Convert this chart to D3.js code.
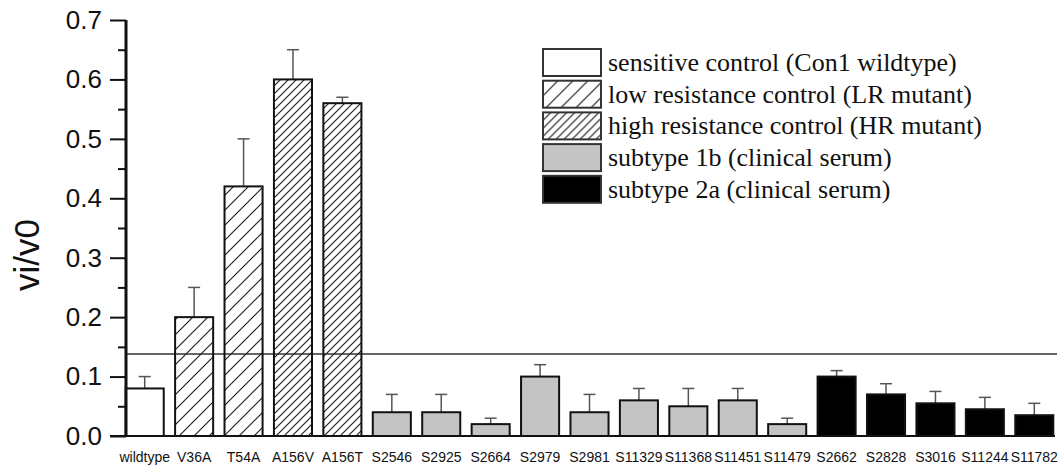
<!DOCTYPE html>
<html>
<head>
<meta charset="utf-8">
<script src="https://cdn.jsdelivr.net/npm/d3@7"></script>
<style>
  body { margin: 0; background: #fff; }
  svg { display: block; }
</style>
</head>
<body>
<div id="chart"></div>
<script>
// data
var categories = ["wildtype", "V36A", "T54A", "A156V", "A156T", "S2546", "S2925", "S2664", "S2979", "S2981",
                  "S11329", "S11368", "S11451", "S11479", "S2662", "S2828", "S3016", "S11244", "S11782"]
var values = [0.08, 0.20, 0.42, 0.60, 0.56, 0.04, 0.04, 0.02, 0.10, 0.04,
              0.06, 0.05, 0.06, 0.02, 0.10, 0.07, 0.055, 0.045, 0.035]
var errors = [0.02, 0.05, 0.08, 0.05, 0.01, 0.03, 0.03, 0.01, 0.02, 0.03,
              0.02, 0.03, 0.02, 0.01, 0.01, 0.018, 0.02, 0.02, 0.02]
var groups = ["sens", "lr", "lr", "hr", "hr", "1b", "1b", "1b", "1b", "1b",
              "1b", "1b", "1b", "1b", "2a", "2a", "2a", "2a", "2a"]
var groupKeys = ["sens", "lr", "hr", "1b", "2a"]
var groupLabels = ["sensitive control (Con1 wildtype)", "low resistance control (LR mutant)",
                   "high resistance control (HR mutant)", "subtype 1b (clinical serum)", "subtype 2a (clinical serum)"]
var yTicks = [0, 0.1, 0.2, 0.3, 0.4, 0.5, 0.6, 0.7]
var yMinorTicks = [0.05, 0.15, 0.25, 0.35, 0.45, 0.55, 0.65]
var threshold = 0.138

var width = 1059, height = 471
var svg = d3.select("#chart").append("svg")
  .attr("width", width)
  .attr("height", height)

// hatch patterns
var defs = svg.append("defs")
function hatch(id, s) {
  defs.append("pattern")
    .attr("id", id)
    .attr("patternUnits", "userSpaceOnUse")
    .attr("width", s).attr("height", s)
    .append("path")
    .attr("d", "M0," + s + " L" + s + ",0 M" + (-s / 4) + "," + (s / 4) + " L" + (s / 4) + "," + (-s / 4) +
               " M" + (s * 3 / 4) + "," + (s * 5 / 4) + " L" + (s * 5 / 4) + "," + (s * 3 / 4))
    .attr("stroke", "#222")
    .attr("stroke-width", 1.2)
}
hatch("lrHatch", 15)
hatch("hrHatch", 8)

var fills = { sens: "#fff", lr: "url(#lrHatch)", hr: "url(#hrHatch)", "1b": "#c4c4c4", "2a": "#000" }

var x = d3.scaleBand()
  .domain(categories)
  .range([120, 1059])
  .paddingInner(0.23)
  .paddingOuter(0.115)

var y = d3.scaleLinear()
  .domain([0, 0.7])
  .range([436, 20])

var axisX = 126

// threshold line
svg.append("line")
  .attr("x1", axisX).attr("x2", 1057)
  .attr("y1", y(threshold)).attr("y2", y(threshold))
  .attr("stroke", "#333").attr("stroke-width", 1.3)

// error bars (upper only)
var err = svg.append("g")
categories.forEach(function(c, i) {
  var cx = x(c) + x.bandwidth() / 2
  err.append("line")
    .attr("x1", cx).attr("x2", cx)
    .attr("y1", y(values[i])).attr("y2", y(values[i] + errors[i]))
    .attr("stroke", "#555").attr("stroke-width", 1.5)
  err.append("line")
    .attr("x1", cx - 6).attr("x2", cx + 6)
    .attr("y1", y(values[i] + errors[i])).attr("y2", y(values[i] + errors[i]))
    .attr("stroke", "#555").attr("stroke-width", 1.5)
})

// bars
svg.selectAll("rect.bar")
  .data(categories)
  .enter()
  .append("rect")
    .attr("class", "bar")
    .attr("x", function(d) { return x(d) })
    .attr("y", function(d, i) { return y(values[i]) })
    .attr("width", x.bandwidth())
    .attr("height", function(d, i) { return y(0) - y(values[i]) })
    .attr("fill", function(d, i) { return fills[groups[i]] })
    .attr("stroke", "#111")
    .attr("stroke-width", 2)

// x axis baseline
svg.append("line")
  .attr("x1", axisX - 16).attr("x2", 1055)
  .attr("y1", y(0)).attr("y2", y(0))
  .attr("stroke", "#111").attr("stroke-width", 2)

// x labels
var xAxis = svg.append("g")
  .attr("transform", "translate(0," + y(0) + ")")
  .call(d3.axisBottom(x).tickSize(0).tickPadding(16))
xAxis.select(".domain").remove()
xAxis.selectAll("text")
  .attr("font-family", "Liberation Sans, Arial, sans-serif")
  .attr("font-size", "14px")
  .attr("fill", "#111")

// y axis
var yAxis = svg.append("g")
  .attr("transform", "translate(" + axisX + ",0)")
  .call(d3.axisLeft(y).tickValues(yTicks).tickSize(16).tickPadding(8).tickFormat(d3.format(".1f")))
yAxis.select(".domain").attr("stroke", "#111").attr("stroke-width", 3).attr("d", "M0," + y(0) + "V" + y(0.7))
yAxis.selectAll(".tick line").attr("stroke", "#111").attr("stroke-width", 2)
yAxis.selectAll("text")
  .attr("font-family", "Liberation Sans, Arial, sans-serif")
  .attr("font-size", "26px")
  .attr("fill", "#111")

var yMinor = svg.append("g")
  .attr("transform", "translate(" + axisX + ",0)")
  .call(d3.axisLeft(y).tickValues(yMinorTicks).tickSize(8).tickFormat(""))
yMinor.select(".domain").remove()
yMinor.selectAll(".tick line").attr("stroke", "#111").attr("stroke-width", 2)

// y title
svg.append("text")
  .attr("transform", "translate(39,255) rotate(-90)")
  .attr("text-anchor", "middle")
  .attr("font-family", "Liberation Sans, Arial, sans-serif")
  .attr("font-size", "35px")
  .attr("fill", "#111")
  .text("vi/v0")

// legend
var legend = svg.append("g").attr("transform", "translate(543,49)")
groupKeys.forEach(function(k, i) {
  var row = legend.append("g").attr("transform", "translate(0," + (i * 31.7) + ")")
  row.append("rect")
    .attr("width", 58).attr("height", 27)
    .attr("fill", fills[k])
    .attr("stroke", "#333").attr("stroke-width", 2)
  row.append("text")
    .attr("x", 65).attr("y", 22)
    .attr("font-family", "Liberation Serif, Times New Roman, serif")
    .attr("font-size", "26px")
    .attr("fill", "#111")
    .text(groupLabels[i])
})
</script>
</body>
</html>
